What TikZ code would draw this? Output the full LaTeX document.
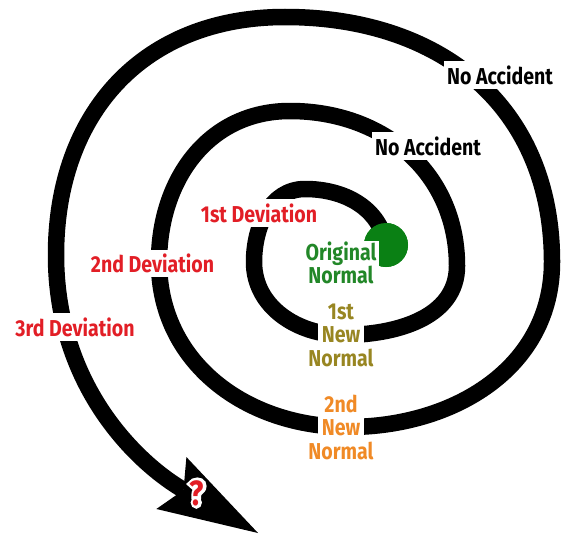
\documentclass[tikz,border=0pt]{standalone}
\usepackage{fontspec}
\usepackage{tikz}
\usetikzlibrary{arrows.meta,positioning}
\newfontfamily\lblfont[FakeStretch=0.85]{Fira Sans}
\newfontfamily\haloFont[FakeStretch=0.85, FakeBold=16]{Fira Sans}
\definecolor{devred}{RGB}{226,30,38}
\definecolor{dotgreen}{RGB}{10,128,20}
\definecolor{origgreen}{RGB}{34,135,40}
\definecolor{newolive}{RGB}{152,134,34}
\definecolor{neworange}{RGB}{240,138,38}
\newcommand{\onring}[1]{{\setlength{\fboxsep}{4pt}\colorbox{white}{#1}}}

\begin{document}
\begin{tikzpicture}[
        x=1pt, y=1pt,
        spiral/.style={draw=black, line width=16.5pt},
        greendot/.style={circle, fill=dotgreen, inner sep=0pt, minimum size=44pt},
        lbl/.style={fill=white, inner xsep=3pt, inner ysep=4pt, align=center,
            font=\lblfont\bfseries\fontsize{23}{23.5}\selectfont},
        normstack/.style={lbl, fill=none, inner sep=0pt},
        qmark/.style={inner sep=0pt, font=\lblfont\bfseries\fontsize{35}{35}\selectfont},
        qhalo/.style={inner sep=0pt, text=white, font=\haloFont\bfseries\fontsize{35}{35}\selectfont}
    ]
        \useasboundingbox (0,0) rectangle (561,-535);

        \node[greendot] (origdot) at (386,-245) {};

        \coordinate (t1) at (305,-189);
        \coordinate (l1) at (254,-262);
        \coordinate (b1) at (343,-335);
        \coordinate (r1) at (457,-266);
        \coordinate (t2) at (290,-111);
        \coordinate (l2) at (159,-262);
        \coordinate (b2) at (348,-427);
        \coordinate (r2) at (552,-262);
        \coordinate (t3) at (285,-17);
        \coordinate (l3) at (56,-255);
        \coordinate (tip) at (258,-533);

        \draw[spiral, -{Stealth[length=100pt, width=60pt, inset=14pt, line width=0pt]}]
            (origdot.center) to[out=100,in=0] (t1)
            to[out=180,in=90] (l1)
            to[out=270,in=180] (b1)
            to[out=0,in=270] (r1)
            to[out=90,in=0,looseness=1.05] (t2)
            to[out=180,in=90,looseness=1.05] (l2)
            to[out=270,in=180,looseness=1.03] (b2)
            to[out=0,in=270,looseness=1.03] (r2)
            to[out=90,in=0,looseness=1.1] (t3)
            to[out=180,in=90,looseness=1.1] (l3)
            to[out=270,in=150] (tip);

        \node[greendot] at (origdot) {};

        \node[lbl] (acc3) at (500,-75) {No Accident};
        \node[lbl] (acc2) at (428,-146) {No Accident};
        \node[lbl, text=devred] (dev1) at (259,-213) {1st Deviation};
        \node[lbl, text=devred] (dev2) at (152.5,-263.5) {2nd Deviation};
        \node[lbl, text=devred] (dev3) at (75,-327) {3rd Deviation};
        \node[lbl, text=origgreen, inner ysep=1pt] (orig) at (341,-263) {Original\\Normal};
        \node[normstack, text=newolive] (new1) at (341,-335) {1st\\\onring{New}\\Normal};
        \node[normstack, text=neworange] (new2) at (341,-427) {2nd\\\onring{New}\\Normal};

        \node[qhalo] (qhalo) at (197,-493) {?};
        \node[qmark, text=devred] (qm) at (qhalo) {?};
    \end{tikzpicture}
\end{document}
